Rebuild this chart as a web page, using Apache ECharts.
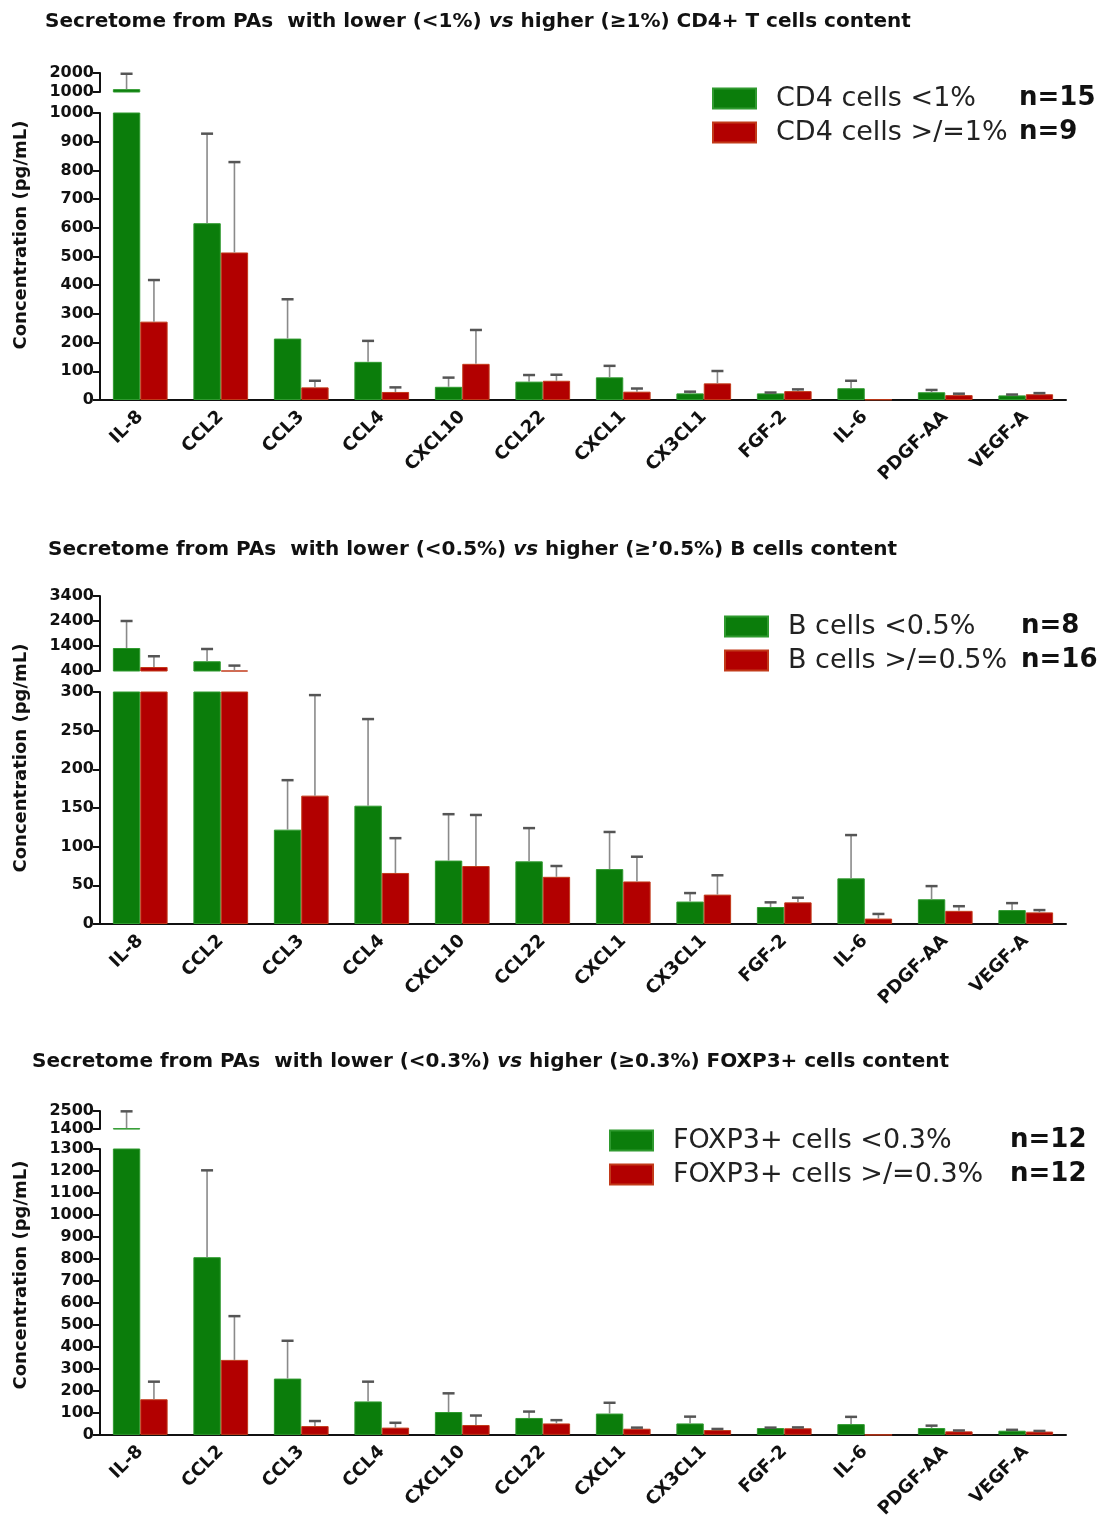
<!DOCTYPE html>
<html>
<head>
<meta charset="utf-8">
<script src="https://cdn.jsdelivr.net/npm/echarts@6/dist/echarts.min.js"></script>
<style>
  html, body { margin: 0; padding: 0; background: #fff; }
  #chart { width: 1100px; height: 1521px; }
</style>
</head>
<body>
<div id="chart"></div>
<script>
const cytokines = ['IL-8', 'CCL2', 'CCL3', 'CCL4', 'CXCL10', 'CCL22', 'CXCL1', 'CX3CL1', 'FGF-2', 'IL-6', 'PDGF-AA', 'VEGF-A']

// CD4+ T cells panel
const cd4Groups = ['CD4 cells <1%', 'CD4 cells >/=1%']
const cd4N = ['n=15', 'n=9']
const cd4LowMean = [1150, 616, 214, 133, 46, 64, 79, 23, 23, 41, 27, 16]
const cd4LowErr = [810, 312, 137, 73, 32, 23, 40, 6, 3, 26, 8, 3]
const cd4HighMean = [273, 514, 44, 28, 126, 67, 29, 58, 31, 2, 17, 20]
const cd4HighErr = [145, 315, 23, 16, 118, 21, 11, 43, 6, 0, 5, 4]
const cd4LowTicks = [0, 1000, 100]
const cd4TopTicks = [1000, 2000, 1000]

// B cells panel
const bGroups = ['B cells <0.5%', 'B cells >/=0.5%']
const bN = ['n=8', 'n=16']
const bLowMean = [1320, 790, 122, 153, 82, 81, 71, 29, 22, 59, 32, 18]
const bLowErr = [1080, 490, 64, 112, 60, 43, 48, 11, 6, 56, 17, 9]
const bHighMean = [560, 420, 166, 66, 75, 61, 55, 38, 28, 7, 17, 15]
const bHighErr = [430, 196, 130, 45, 66, 14, 32, 25, 6, 6, 6, 3]
const bLowTicks = [0, 300, 50]
const bTopTicks = [400, 3400, 1000]

// FOXP3+ cells panel
const foxGroups = ['FOXP3+ cells <0.3%', 'FOXP3+ cells >/=0.3%']
const foxN = ['n=12', 'n=12']
const foxLowMean = [1450, 808, 256, 152, 104, 77, 97, 52, 31, 49, 31, 19]
const foxLowErr = [1030, 395, 172, 90, 85, 29, 49, 31, 2, 33, 11, 4]
const foxHighMean = [162, 341, 40, 33, 45, 52, 28, 22, 30, 0, 16, 15]
const foxHighErr = [80, 199, 23, 22, 43, 15, 5, 5, 4, 0, 4, 3]
const foxLowTicks = [0, 1300, 100]
const foxTopTicks = [1400, 2500, 1100]

const GREEN = '#0b7d0b'
const RED = '#b20000'
const FONT = 'DejaVu Sans'

const panels = [
  {
    title: ['Secretome from PAs  with lower (<1%) ', ' higher (\u22651%) CD4+ T cells content'],
    titlePos: [40, 7],
    groups: cd4Groups, n: cd4N,
    low: [cd4LowMean, cd4LowErr], high: [cd4HighMean, cd4HighErr],
    lowTicks: cd4LowTicks, topTicks: cd4TopTicks,
    topGrid: [73, 19], lowGrid: [113, 287],
    legend: [707, 80, 243], nameY: 235
  },
  {
    title: ['Secretome from PAs  with lower (<0.5%) ', ' higher (\u2265\u20190.5%) B cells content'],
    titlePos: [43, 535],
    groups: bGroups, n: bN,
    low: [bLowMean, bLowErr], high: [bHighMean, bHighErr],
    lowTicks: bLowTicks, topTicks: bTopTicks,
    topGrid: [596, 75], lowGrid: [692, 232],
    legend: [719, 608, 233], nameY: 758
  },
  {
    title: ['Secretome from PAs  with lower (<0.3%) ', ' higher (\u22650.3%) FOXP3+ cells content'],
    titlePos: [27, 1047],
    groups: foxGroups, n: foxN,
    low: [foxLowMean, foxLowErr], high: [foxHighMean, foxHighErr],
    lowTicks: foxLowTicks, topTicks: foxTopTicks,
    topGrid: [1111, 18], lowGrid: [1149, 291],
    legend: [604, 1122, 337], nameY: 1275
  }
]

// error bars drawn by hand, clamped to the grid so the broken axis hides the rest
function errorBars(side) {
  return function (params, api) {
    const cs = params.coordSys
    const i = api.value(0), mean = api.value(1), err = api.value(2)
    if (!err) return null
    const band = api.size([1, 0])[0]
    const x = api.coord([i, mean])[0] + side * band * 0.17
    let y0 = api.coord([i, mean])[1]
    let y1 = api.coord([i, mean + err])[1]
    const top = cs.y, bottom = cs.y + cs.height
    if (y1 > bottom || y0 < top - 0.5) return null
    const capShown = y1 >= top - 0.5
    y0 = Math.min(y0, bottom)
    y1 = Math.max(y1, top)
    const children = [{
      type: 'line', shape: { x1: x, y1: y0, x2: x, y2: y1 },
      style: { stroke: '#8a8a8a', lineWidth: 1.6 }
    }]
    if (capShown) {
      children.push({
        type: 'line', shape: { x1: x - 6, y1: y1, x2: x + 6, y2: y1 },
        style: { stroke: '#555', lineWidth: 2.5 }
      })
    }
    return { type: 'group', children: children }
  }
}

function yAxisFor(gridIndex, ticks, custom) {
  const ax = {
    type: 'value', gridIndex: gridIndex,
    min: ticks[0], max: ticks[1], interval: ticks[2],
    axisLine: { show: true, lineStyle: { color: '#111', width: 2 } },
    axisTick: { show: true, length: 7, lineStyle: { color: '#111', width: 2 } },
    axisLabel: {
      color: '#111', fontFamily: FONT, fontWeight: 'bold', fontSize: 16, margin: 6,
      formatter: function (v) { return String(v) }
    },
    splitLine: { show: false }
  }
  if (custom) {
    const vals = []
    for (let v = ticks[0]; v <= ticks[1]; v += ticks[2]) vals.push(v)
    ax.axisTick.customValues = vals
    ax.axisLabel.customValues = vals
  }
  return ax
}

const grid = [], xAxis = [], yAxis = [], series = [], title = [], legend = [], graphic = []

panels.forEach(function (p, k) {
  const gTop = k * 2, gLow = k * 2 + 1
  grid.push({ left: 100, right: 34, top: p.topGrid[0], height: p.topGrid[1] })
  grid.push({ left: 100, right: 34, top: p.lowGrid[0], height: p.lowGrid[1] })

  xAxis.push({ type: 'category', gridIndex: gTop, data: cytokines, show: false })
  xAxis.push({
    type: 'category', gridIndex: gLow, data: cytokines,
    axisLine: { lineStyle: { color: '#111', width: 2 } },
    axisTick: { alignWithLabel: true, length: 6, lineStyle: { color: '#111', width: 2 } },
    axisLabel: { rotate: 45, interval: 0, color: '#111', fontFamily: FONT, fontWeight: 'bold', fontSize: 18, margin: 14 }
  })

  yAxis.push(yAxisFor(gTop, p.topTicks, true))
  yAxis.push(yAxisFor(gLow, p.lowTicks, false))

  ;[gTop, gLow].forEach(function (g) {
    series.push({
      name: p.groups[0], type: 'bar', xAxisIndex: g, yAxisIndex: g,
      data: p.low[0], barWidth: '34%', barGap: '0%',
      itemStyle: { color: GREEN, borderColor: '#2f9a2f', borderWidth: 1 }
    })
    series.push({
      name: p.groups[1], type: 'bar', xAxisIndex: g, yAxisIndex: g,
      data: p.high[0], barWidth: '34%', barGap: '0%',
      itemStyle: { color: RED, borderColor: '#c23a1a', borderWidth: 1 }
    })
    series.push({
      type: 'custom', xAxisIndex: g, yAxisIndex: g, silent: true, z: 5,
      renderItem: errorBars(-1), encode: { x: 0, y: 1 },
      data: p.low[0].map(function (m, i) { return [i, m, p.low[1][i]] })
    })
    series.push({
      type: 'custom', xAxisIndex: g, yAxisIndex: g, silent: true, z: 5,
      renderItem: errorBars(1), encode: { x: 0, y: 1 },
      data: p.high[0].map(function (m, i) { return [i, m, p.high[1][i]] })
    })
  })

  title.push({
    left: p.titlePos[0], top: p.titlePos[1],
    text: '{b|' + p.title[0] + '}{i|vs}{b|' + p.title[1] + '}',
    textStyle: {
      rich: {
        b: { fontFamily: FONT, fontWeight: 'bold', fontSize: 20, color: '#111' },
        i: { fontFamily: FONT, fontWeight: 'bold', fontStyle: 'italic', fontSize: 20, color: '#111' }
      }
    }
  })

  const nMap = {}
  p.groups.forEach(function (g, i) { nMap[g] = p.n[i] })
  legend.push({
    data: p.groups, orient: 'vertical', left: p.legend[0], top: p.legend[1],
    icon: 'rect', itemWidth: 43, itemHeight: 20, itemGap: 7, selectedMode: false,
    formatter: function (name) { return '{a|' + name + '}{b|' + nMap[name] + '}' },
    textStyle: {
      rich: {
        a: { fontFamily: FONT, fontSize: 27, color: '#222', width: p.legend[2], padding: [0, 0, 0, 15], lineHeight: 30 },
        b: { fontFamily: FONT, fontSize: 26, fontWeight: 'bold', color: '#111', lineHeight: 30 }
      }
    }
  })

  graphic.push({
    type: 'text', x: 21, y: p.nameY, rotation: Math.PI / 2,
    style: {
      text: 'Concentration (pg/mL)', fill: '#111',
      font: 'bold 18px "DejaVu Sans"', textAlign: 'center', textVerticalAlign: 'middle'
    }
  })
})

const myChart = echarts.init(document.getElementById('chart'), null, { renderer: 'canvas' })
myChart.setOption({
  backgroundColor: '#fff',
  animation: false,
  title: title,
  legend: legend,
  grid: grid,
  xAxis: xAxis,
  yAxis: yAxis,
  series: series,
  graphic: graphic
})
</script>
</body>
</html>
